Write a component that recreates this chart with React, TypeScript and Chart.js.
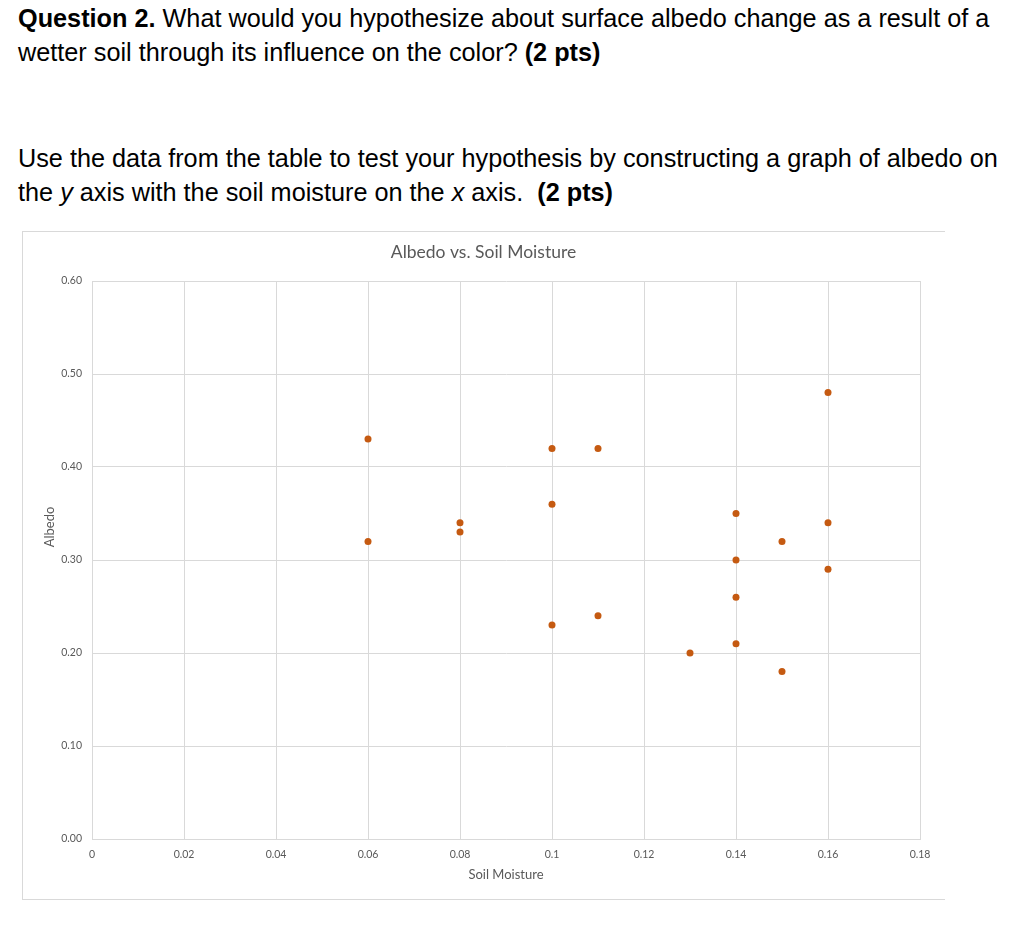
import React, { useEffect, useRef } from "react";
import { Chart, registerables } from "chart.js";

Chart.register(...registerables);

const soilMoisture = [0.06, 0.06, 0.08, 0.08, 0.1, 0.1, 0.1, 0.11, 0.11, 0.13, 0.14, 0.14, 0.14, 0.14, 0.15, 0.15, 0.16, 0.16, 0.16];
const albedo = [0.43, 0.32, 0.34, 0.33, 0.42, 0.36, 0.23, 0.42, 0.24, 0.2, 0.35, 0.3, 0.26, 0.21, 0.32, 0.18, 0.48, 0.34, 0.29];
const xTickLabels = ["0", "0.02", "0.04", "0.06", "0.08", "0.1", "0.12", "0.14", "0.16", "0.18"];
const yTickLabels = ["0.00", "0.10", "0.20", "0.30", "0.40", "0.50", "0.60"];

const chartTitle = "Albedo vs. Soil Moisture";
const xTitle = "Soil Moisture";
const yTitle = "Albedo";

const FONT = "Lato, 'Open Sans', sans-serif";
const GRAY = "#595959";
const GRID = "#d9d9d9";

const yTitlePlugin = {
  id: "yTitlePlugin",
  afterDraw(chart: any) {
    const ctx = chart.ctx;
    ctx.save();
    ctx.translate(27, 295);
    ctx.rotate(-Math.PI / 2);
    ctx.font = `13px ${FONT}`;
    ctx.fillStyle = GRAY;
    ctx.textAlign = "center";
    ctx.textBaseline = "middle";
    ctx.fillText(yTitle, 0, 0);
    ctx.restore();
  },
};

function AlbedoChart() {
  const ref = useRef<HTMLCanvasElement | null>(null);
  useEffect(() => {
    if (!ref.current) return;
    const chart = new Chart(ref.current, {
      type: "scatter",
      data: {
        datasets: [
          {
            label: "Albedo",
            data: soilMoisture.map((x, i) => ({ x, y: albedo[i] })),
            backgroundColor: "#C55A11",
            borderColor: "#C55A11",
            pointRadius: 3.5,
            pointHoverRadius: 3.5,
            borderWidth: 0,
          },
        ],
      },
      plugins: [yTitlePlugin],
      options: {
        animation: false,
        responsive: true,
        maintainAspectRatio: false,
        layout: { padding: { left: 24, right: 25, top: 0, bottom: 0 } },
        plugins: {
          legend: { display: false },
          tooltip: { enabled: false },
          title: {
            display: true,
            text: chartTitle,
            color: GRAY,
            font: { family: FONT, size: 17.5, weight: "normal" },
            padding: { top: 9.5, bottom: 18.5 },
          },
        },
        scales: {
          x: {
            type: "linear",
            min: 0,
            max: 0.18,
            afterFit: (s: any) => {
              s.height = 60;
            },
            afterBuildTicks: (s: any) => {
              s.ticks = xTickLabels.map((t) => ({ value: parseFloat(t) }));
            },
            ticks: {
              color: GRAY,
              font: { family: FONT, size: 10.5 },
              padding: 9,
              maxRotation: 0,
              autoSkip: false,
              callback: (_v: any, i: number) => xTickLabels[i],
            },
            grid: { color: GRID, drawTicks: false, lineWidth: 1 },
            border: { color: GRID },
            title: {
              display: true,
              text: xTitle,
              color: GRAY,
              font: { family: FONT, size: 13 },
              padding: { top: 4, bottom: 16 },
            },
          },
          y: {
            type: "linear",
            min: 0,
            max: 0.6,
            afterFit: (s: any) => {
              s.width = 45;
            },
            afterBuildTicks: (s: any) => {
              s.ticks = yTickLabels.map((t) => ({ value: parseFloat(t) }));
            },
            ticks: {
              color: GRAY,
              font: { family: FONT, size: 10.5 },
              padding: 10,
              autoSkip: false,
              callback: (_v: any, i: number) => yTickLabels[i],
            },
            grid: { color: GRID, drawTicks: false, lineWidth: 1 },
            border: { color: GRID },
          },
        },
      },
    });
    return () => chart.destroy();
  }, []);
  return <canvas ref={ref} />;
}

export default function App() {
  const textStyle: React.CSSProperties = {
    position: "absolute",
    left: 18,
    fontFamily: "'Liberation Sans', Arial, sans-serif",
    fontSize: 25.25,
    lineHeight: "34px",
    color: "#000",
    whiteSpace: "nowrap",
    margin: 0,
  };
  return (
    <div style={{ position: "absolute", left: 0, top: 0, width: 1024, height: 949, background: "#fff" }}>
      <div style={{ ...textStyle, top: 1 }}>
        <b>Question 2.</b> What would you hypothesize about surface albedo change as a result of a
        <br />
        wetter soil through its influence on the color? <b>(2 pts)</b>
      </div>
      <div style={{ ...textStyle, top: 141 }}>
        Use the data from the table to test your hypothesis by constructing a graph of albedo on
        <br />
        the <i>y</i> axis with the soil moisture on the <i>x</i> axis.&nbsp; <b>(2 pts)</b>
      </div>
      <div
        style={{
          position: "absolute",
          left: 22,
          top: 231,
          width: 923,
          height: 669,
          boxSizing: "border-box",
          borderTop: "1px solid #d9d9d9",
          borderLeft: "1px solid #d9d9d9",
          borderBottom: "1px solid #d9d9d9",
        }}
      >
        <div style={{ position: "relative", width: "100%", height: "100%" }}>
          <AlbedoChart />
        </div>
      </div>
    </div>
  );
}
